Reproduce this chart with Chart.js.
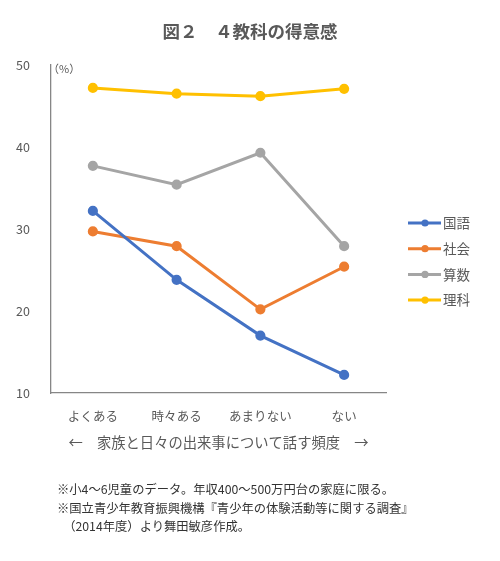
<!DOCTYPE html>
<html>
<head>
<meta charset="utf-8">
<script src="https://cdn.jsdelivr.net/npm/chart.js@4.4.1/dist/chart.umd.min.js"></script>
<style>
  body { margin: 0; background: #fff; }
  #wrap { position: relative; width: 500px; height: 561px; }
  .note { position: absolute; left: 57px; font: 12.3px "Noto Sans CJK JP"; color: #333; white-space: nowrap; line-height: 18px; }
</style>
</head>
<body>
<div id="wrap">
  <canvas id="chart" width="500" height="561"></canvas>
  <div class="note" style="top:480px">※小4～6児童のデータ。年収400～500万円台の家庭に限る。</div>
  <div class="note" style="top:499px">※国立青少年教育振興機構『青少年の体験活動等に関する調査』</div>
  <div class="note" style="top:517px">　（2014年度）より舞田敏彦作成。</div>
</div>
<script>
// data
const categories = ['よくある', '時々ある', 'あまりない', 'ない'];
const kokugo = [32.2, 23.8, 17.0, 12.2];
const shakai = [29.7, 27.9, 20.2, 25.4];
const sansu = [37.7, 35.4, 39.3, 27.9];
const rika = [47.2, 46.5, 46.2, 47.1];
const yTicks = [10, 20, 30, 40, 50];

const font = '"Noto Sans CJK JP", "Noto Sans", sans-serif';
const textGray = '#595959';

function series(label, data, color) {
  return {
    label: label,
    data: data,
    borderColor: color,
    backgroundColor: color,
    borderWidth: 3,
    pointRadius: 3.6,
    pointHoverRadius: 3.6,
    tension: 0
  };
}

// title, unit and the legend on the right (line + marker like Excel)
const extras = {
  id: 'extras',
  afterDraw(chart) {
    const ctx = chart.ctx;
    ctx.save();
    ctx.fillStyle = textGray;
    ctx.font = 'bold 17.5px ' + font;
    ctx.textAlign = 'center';
    ctx.textBaseline = 'middle';
    ctx.fillText('図２　４教科の得意感', 250, 31);

    ctx.textAlign = 'left';
    chart.data.datasets.forEach((ds, i) => {
      const y = 223 + i * 25.7;
      ctx.strokeStyle = ds.borderColor;
      ctx.lineWidth = 3;
      ctx.beginPath();
      ctx.moveTo(408, y);
      ctx.lineTo(441, y);
      ctx.stroke();
      ctx.fillStyle = ds.borderColor;
      ctx.beginPath();
      ctx.arc(425, y, 3.6, 0, Math.PI * 2);
      ctx.fill();
      ctx.fillStyle = textGray;
      ctx.font = '13.5px ' + font;
      ctx.fillText(ds.label, 443, y);
    });

    ctx.font = '11px ' + font;
    ctx.fillStyle = textGray;
    ctx.fillText('（%）', chart.chartArea.left - 3, chart.chartArea.top + 4);
    ctx.restore();
  }
};

new Chart(document.getElementById('chart'), {
  type: 'line',
  data: {
    labels: categories,
    datasets: [
      series('国語', kokugo, '#4472C4'),
      series('社会', shakai, '#ED7D31'),
      series('算数', sansu, '#A5A5A5'),
      series('理科', rika, '#FFC000')
    ]
  },
  options: {
    responsive: false,
    animation: false,
    devicePixelRatio: 1,
    layout: { padding: { top: 65, right: 114, bottom: 110, left: 0 } },
    plugins: {
      legend: { display: false },
      tooltip: { enabled: false },
      title: { display: false }
    },
    scales: {
      x: {
        offset: true,
        grid: { display: false },
        border: { display: true, color: '#868686', width: 1.3 },
        ticks: { color: textGray, font: { family: font, size: 12.5 }, padding: 8 },
        title: {
          display: true,
          text: '←　家族と日々の出来事について話す頻度　→',
          color: textGray,
          font: { family: font, size: 14.3 },
          padding: { top: 6, bottom: 0 }
        },
        afterFit(scale) { scale.height = 58; }
      },
      y: {
        min: 10,
        max: 50,
        afterBuildTicks(scale) { scale.ticks = yTicks.map(v => ({ value: v })); },
        grid: { display: false },
        border: { display: true, color: '#868686', width: 1.3 },
        ticks: { color: textGray, font: { family: font, size: 12.5 }, padding: 13 },
        afterFit(scale) { scale.width = 51; }
      }
    }
  },
  plugins: [extras]
});
</script>
</body>
</html>
